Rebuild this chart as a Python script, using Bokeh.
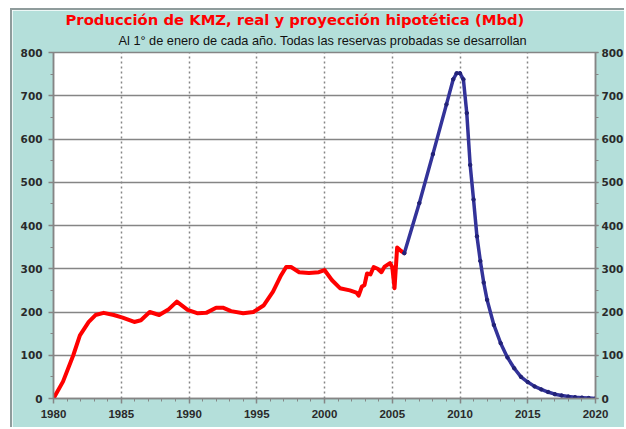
from bokeh.plotting import figure
from bokeh.models import LinearAxis, Title, FixedTicker
from bokeh.embed import file_html
from bokeh.resources import INLINE

# ---- data ----
real_years = [1980.0, 1980.7, 1981.46, 1981.95, 1982.6, 1983.1, 1983.7, 1984.45, 1985.1, 1985.96,
              1986.45, 1987.1, 1987.8, 1988.45, 1989.1, 1989.9, 1990.65, 1991.27, 1992.0, 1992.5,
              1993.1, 1994.0, 1994.75, 1995.5, 1996.2, 1996.8, 1997.17, 1997.53, 1998.13, 1998.85,
              1999.58, 2000.0, 2000.54, 2001.14, 2001.87, 2002.35, 2002.52, 2002.76, 2002.95, 2003.14,
              2003.39, 2003.63, 2003.92, 2004.2, 2004.44, 2004.83, 2005.0, 2005.17, 2005.36, 2005.65,
              2005.89]
real_values = [0, 39, 100, 146, 177, 193, 198, 193, 187, 177,
               181, 200, 193, 205, 224, 205, 197, 198, 210, 210,
               202, 197, 200, 215, 247, 285, 304, 304, 292, 290,
               292, 297, 274, 255, 250, 245, 238, 259, 262, 289,
               287, 304, 300, 292, 305, 313, 304, 255, 349, 341,
               336]

proj_years = [2005.89, 2007.0, 2008.0, 2009.0, 2009.5, 2009.75, 2010.0, 2010.25, 2010.5, 2010.75,
              2011.0, 2011.25, 2011.5, 2011.75, 2012.0, 2012.5, 2013.0, 2013.5, 2014.0, 2014.5,
              2015.0, 2015.5, 2016.0, 2016.5, 2017.0, 2017.5, 2018.0, 2018.5, 2019.0, 2019.5, 2020.0]
proj_values = [336, 452, 565, 680, 738, 752, 752, 738, 660, 540,
               460, 375, 318, 268, 228, 170, 128, 95, 70, 50,
               38, 28, 21, 15, 10, 7, 4.5, 3, 2, 1, 0]

x_ticks = [1980, 1985, 1990, 1995, 2000, 2005, 2010, 2015, 2020]
y_ticks = [0, 100, 200, 300, 400, 500, 600, 700, 800]

title_text = "Producción de KMZ, real y proyección hipotética (Mbd)"
subtitle_text = "Al 1° de enero de cada año. Todas las reservas probadas se desarrollan"

BG = "#b4dfda"
GRID = "#858585"
FONT = "Liberation Sans"

p = figure(width=614, height=419, x_range=(1980, 2020), y_range=(0, 800),
           output_backend="svg", toolbar_location=None,
           min_border_left=41, min_border_right=26, min_border_top=42, min_border_bottom=31,
           x_axis_location=None, y_axis_location=None)
p.margin = (8, 0, 0, 10)
p.styles = {"border-left": "2px solid #8f9c9c", "border-top": "2px solid #8f9c9c"}

p.background_fill_color = "white"
p.border_fill_color = BG
p.outline_line_color = GRID
p.outline_line_width = 1.5

# titles
p.title.text = title_text
p.title.text_color = "#ff0000"
p.title.text_font = "DejaVu Sans"
p.title.text_font_size = "14.8px"
p.title.text_font_style = "bold"
p.title.align = "left"
p.title.offset = 12
p.title.standoff = -3

sub = Title(text=subtitle_text, text_font=FONT, text_font_size="12.75px",
            text_font_style="normal", text_color="#111111", align="left", offset=65,
            standoff=9)
p.add_layout(sub, "above")


def style_axis(ax, ticks, minor, font, size):
    ax.ticker = FixedTicker(ticks=ticks, minor_ticks=minor)
    ax.axis_line_color = GRID
    ax.axis_line_width = 1.5
    ax.major_tick_line_color = GRID
    ax.minor_tick_line_color = GRID
    ax.major_tick_line_width = 1.5
    ax.major_tick_out = 5
    ax.major_tick_in = 0
    ax.minor_tick_out = 3
    ax.minor_tick_in = 0
    ax.major_label_text_font = font
    ax.major_label_text_font_size = size
    ax.major_label_text_font_style = "bold"
    ax.major_label_text_color = "#2a2a2a"


xminor = list(range(1980, 2021))
yminor = list(range(0, 801, 50))

xb = LinearAxis()
style_axis(xb, x_ticks, xminor, FONT, "11.5px")
xb.major_label_standoff = 6
p.add_layout(xb, "below")

yl = LinearAxis()
style_axis(yl, y_ticks, yminor, "DejaVu Sans", "10.5px")
yl.major_label_standoff = 6
p.add_layout(yl, "left")

yr = LinearAxis()
style_axis(yr, y_ticks, yminor, "DejaVu Sans", "10.5px")
yr.major_label_standoff = 3
yr.major_tick_out = 3
p.add_layout(yr, "right")

# grids
p.xgrid.ticker = FixedTicker(ticks=x_ticks[1:-1])
p.xgrid.grid_line_color = GRID
p.xgrid.grid_line_width = 1.5
p.xgrid.grid_line_dash = "2 3"
p.ygrid.ticker = FixedTicker(ticks=y_ticks)
p.ygrid.grid_line_color = GRID
p.ygrid.grid_line_width = 1.5

p.line(real_years, real_values, line_color="#ff0000", line_width=4, line_join="round", line_cap="round")
p.line(proj_years, proj_values, line_color="#333399", line_width=3.5, line_join="round", line_cap="round")
p.scatter(proj_years, proj_values, size=3.5, color="#222277")

open("out.html", "w").write(file_html(p, INLINE))
